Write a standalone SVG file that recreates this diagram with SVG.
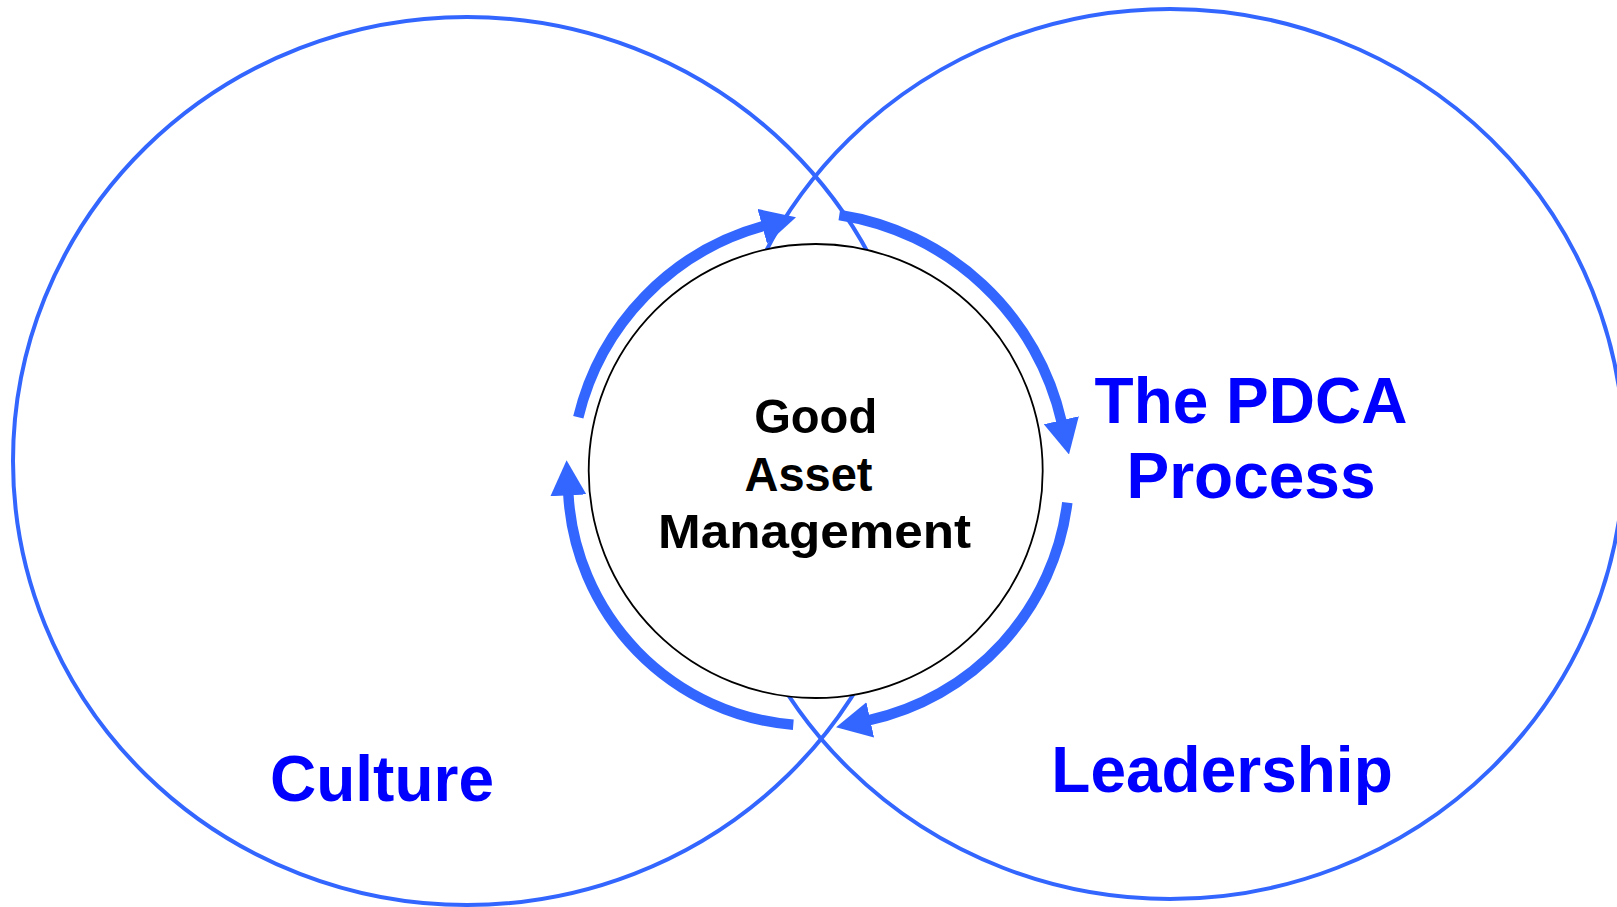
<svg xmlns="http://www.w3.org/2000/svg" width="1617" height="907" viewBox="0 0 1617 907">
  <style>
    .ring { fill: none; stroke: #3366FF; stroke-width: 4; }
    .arc { fill: none; stroke: #3366FF; stroke-width: 10.5; stroke-linecap: butt; marker-end: url(#head); }
    .core { fill: #FFFFFF; stroke: #000000; stroke-width: 1.8; }
    .lbl { font-family: "Liberation Sans", Arial, sans-serif; font-weight: bold; text-anchor: middle; }
    .big { font-size: 64px; fill: #0000FF; }
    .mid { font-size: 49px; fill: #000000; }
  </style>
  <defs>
    <marker id="head" markerUnits="userSpaceOnUse" viewBox="0 0 35 36" markerWidth="35" markerHeight="36" refX="2" refY="18" orient="auto">
      <path d="M0,0 L35,18 L0,36 Z" fill="#3366FF"/>
    </marker>
  </defs>
  <rect width="1617" height="907" fill="#FFFFFF"/>

  <g id="culture">
    <ellipse class="ring" cx="467" cy="461" rx="454" ry="444"/>
    <text class="lbl big" x="382" y="801">Culture</text>
  </g>
  <g id="leadership">
    <ellipse class="ring" cx="1170" cy="454" rx="454" ry="445"/>
    <text class="lbl big" x="1222" y="792">Leadership</text>
  </g>
  <g id="pdca-label">
    <text class="lbl big" x="1251" y="423">The PDCA</text>
    <text class="lbl big" x="1251" y="498">Process</text>
  </g>
  <g id="good-asset-management">
    <circle class="core" cx="815.7" cy="471" r="227"/>
    <text class="lbl mid" x="815.7" y="433" textLength="123" lengthAdjust="spacingAndGlyphs">Good</text>
    <text class="lbl mid" x="808.5" y="491" textLength="128" lengthAdjust="spacingAndGlyphs">Asset</text>
    <text class="lbl mid" x="814.5" y="548" textLength="313" lengthAdjust="spacingAndGlyphs">Management</text>
  </g>

  <g id="connectors">
    <path class="arc" d="M578.3,417.3 A262,262 0 0 1 764.2,225.8"/>
    <path class="arc" d="M839.3,215 A270,270 0 0 1 1061.7,422.2"/>
    <path class="arc" d="M1067.3,502.7 A255,255 0 0 1 868.3,720.3"/>
    <path class="arc" d="M793.3,724.7 A245,245 0 0 1 568.3,493.3"/>
  </g>
</svg>
